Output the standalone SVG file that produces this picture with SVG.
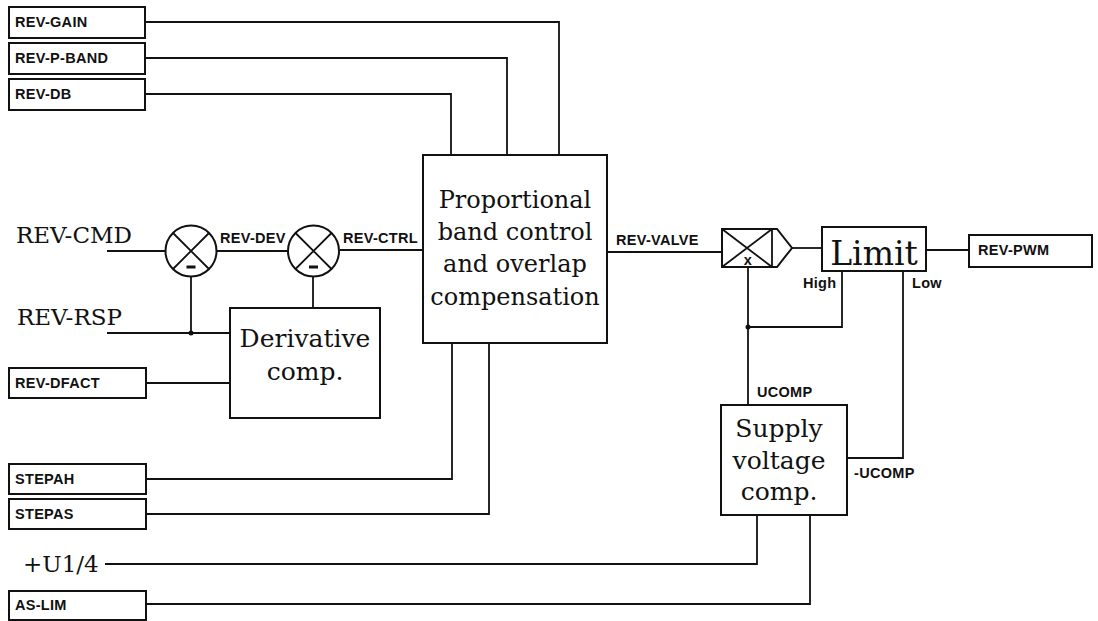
<svg xmlns="http://www.w3.org/2000/svg" width="1098" height="621" viewBox="0 0 1098 621">
<style>
.bx{fill:#fff;stroke:#111;stroke-width:2}
.ln{fill:none;stroke:#111;stroke-width:1.8}
.sm{font-family:"Liberation Sans",Arial,sans-serif;font-weight:bold;font-size:14.5px;letter-spacing:0.3px;fill:#111}
.bg{font-family:"DejaVu Serif","Liberation Serif",serif;fill:#111}
</style>
<rect width="1098" height="621" fill="#fff"/>
<g id="connectors">
<polyline class="ln" points="145,22 559,22 559,155"/>
<polyline class="ln" points="145,58 507,58 507,155"/>
<polyline class="ln" points="145,94 451,94 451,155"/>
<line class="ln" x1="107" y1="251" x2="166" y2="251"/>
<line class="ln" x1="217" y1="251" x2="287" y2="251"/>
<line class="ln" x1="340" y1="250" x2="423" y2="250"/>
<line class="ln" x1="191" y1="277" x2="191" y2="333"/>
<line class="ln" x1="107" y1="333" x2="230" y2="333"/>
<line class="ln" x1="313" y1="277" x2="313" y2="308"/>
<line class="ln" x1="146" y1="383" x2="230" y2="383"/>
<polyline class="ln" points="146,479 452,479 452,343"/>
<polyline class="ln" points="146,514 489,514 489,343"/>
<line class="ln" x1="607" y1="252" x2="722" y2="252"/>
<line class="ln" x1="792" y1="248" x2="822" y2="248"/>
<line class="ln" x1="926" y1="250" x2="969" y2="250"/>
<line class="ln" x1="748" y1="267" x2="748" y2="405"/>
<polyline class="ln" points="842,271 842,327 748,327"/>
<polyline class="ln" points="903,271 903,458 847,458"/>
<polyline class="ln" points="105,564 757,564 757,515"/>
<polyline class="ln" points="146,604 810,604 810,515"/>
<circle cx="191" cy="333" r="2.5" fill="#111"/>
<circle cx="748" cy="327" r="2.5" fill="#111"/>
<text class="sm" x="220" y="243">REV-DEV</text>
<text class="sm" x="343" y="243">REV-CTRL</text>
<text class="sm" x="616" y="245">REV-VALVE</text>
<text class="sm" x="803" y="288">High</text>
<text class="sm" x="912" y="288">Low</text>
<text class="sm" x="757" y="397">UCOMP</text>
<text class="sm" x="854" y="478">-UCOMP</text>
</g>
<g id="rev-gain"><rect class="bx" x="9" y="7" width="136" height="31"/><text class="sm" x="15" y="27">REV-GAIN</text></g>
<g id="rev-p-band"><rect class="bx" x="9" y="43" width="136" height="31"/><text class="sm" x="15" y="63">REV-P-BAND</text></g>
<g id="rev-db"><rect class="bx" x="9" y="79" width="136" height="31"/><text class="sm" x="15" y="99">REV-DB</text></g>
<g id="rev-cmd"><text class="bg" x="16" y="243" font-size="23">REV-CMD</text></g>
<g id="rev-rsp"><text class="bg" x="17" y="325" font-size="23">REV-RSP</text></g>
<g id="sum1"><circle class="bx" cx="191" cy="251" r="25.5"/><path class="ln" d="M173,233 L209,269 M209,233 L173,269"/><rect x="186.5" y="265.5" width="9" height="3" fill="#111"/></g>
<g id="sum2"><circle class="bx" cx="313.5" cy="251" r="25.5"/><path class="ln" d="M295.5,233 L331.5,269 M331.5,233 L295.5,269"/><rect x="309" y="265.5" width="9" height="3" fill="#111"/></g>
<g id="derivative"><rect class="bx" x="230" y="308" width="150" height="110"/><text class="bg" x="305" y="347" font-size="25" text-anchor="middle">Derivative</text><text class="bg" x="305" y="380" font-size="25" text-anchor="middle">comp.</text></g>
<g id="rev-dfact"><rect class="bx" x="9" y="368" width="137" height="30"/><text class="sm" x="15" y="388">REV-DFACT</text></g>
<g id="prop"><rect class="bx" x="423" y="155" width="184" height="188"/>
<text class="bg" x="515" y="208" font-size="24" text-anchor="middle">Proportional</text>
<text class="bg" x="515" y="240" font-size="24" text-anchor="middle">band control</text>
<text class="bg" x="515" y="272" font-size="24" text-anchor="middle">and overlap</text>
<text class="bg" x="515" y="305" font-size="24" text-anchor="middle">compensation</text></g>
<g id="mult"><path class="bx" d="M722,229 L777,229 L792,248 L777,267 L722,267 Z"/><path class="ln" d="M722,229 L772,267 M772,229 L722,267 M772,229 L772,267"/><text class="sm" x="748" y="265" text-anchor="middle" font-size="14">x</text></g>
<g id="limit"><rect class="bx" x="822" y="227" width="104" height="44"/><text class="bg" x="874" y="265" font-size="33" text-anchor="middle">Limit</text></g>
<g id="rev-pwm"><rect class="bx" x="969" y="235" width="123" height="32"/><text class="sm" x="978" y="255">REV-PWM</text></g>
<g id="supply"><rect class="bx" x="721" y="405" width="126" height="110"/>
<text class="bg" x="779" y="437" font-size="25" text-anchor="middle">Supply</text>
<text class="bg" x="779" y="469" font-size="25" text-anchor="middle">voltage</text>
<text class="bg" x="779" y="500" font-size="25" text-anchor="middle">comp.</text></g>
<g id="stepah"><rect class="bx" x="9" y="464" width="137" height="30"/><text class="sm" x="15" y="484">STEPAH</text></g>
<g id="stepas"><rect class="bx" x="9" y="499" width="137" height="30"/><text class="sm" x="15" y="519">STEPAS</text></g>
<g id="u14"><text class="bg" x="23" y="572" font-size="23">+U1/4</text></g>
<g id="as-lim"><rect class="bx" x="9" y="591" width="137" height="29"/><text class="sm" x="15" y="610">AS-LIM</text></g>
</svg>
